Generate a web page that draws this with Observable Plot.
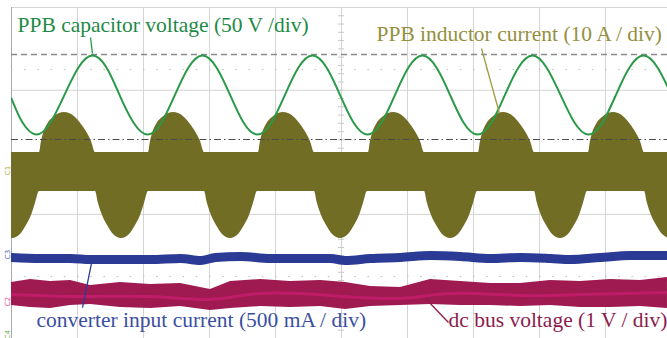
<!DOCTYPE html>
<html><head><meta charset="utf-8">
<script src="https://cdn.jsdelivr.net/npm/d3@7"></script>
<script src="https://cdn.jsdelivr.net/npm/@observablehq/plot@0.6"></script>
<style>html,body{margin:0;padding:0;background:#fff;overflow:hidden}</style>
</head><body><div id="chart"></div>
<script>
// Units: x in horizontal screen divisions, y in vertical screen divisions (0 = bottom)
const gridX = [0, 1, 2, 3, 4, 5, 6, 7, 8, 9];
const gridY = [3, 6, 8];
const dotRowsY = [1.5, 6.5];
const dashedLevel = [6.864];
const dashDotLevel = [4.81];

// PPB capacitor voltage (green)
const capX = [0,0.167,0.379,0.591,0.803,1.015,1.227,1.439,1.636,1.848,2.061,2.273,2.477,2.682,2.894,3.106,3.311,3.515,3.727,3.939,4.144,4.348,4.561,4.773,4.977,5.182,5.394,5.606,5.811,6.015,6.227,6.439,6.644,6.848,7.061,7.273,7.477,7.682,7.894,8.106,8.318,8.530,8.742,8.955,9.159,9.364,9.576,9.788,10];
const capY = [5.80,5.22,4.93,5.22,5.89,6.55,6.84,6.55,5.89,5.22,4.93,5.22,5.89,6.55,6.84,6.55,5.89,5.22,4.93,5.22,5.89,6.55,6.84,6.55,5.89,5.22,4.93,5.22,5.89,6.55,6.84,6.55,5.89,5.22,4.93,5.22,5.89,6.55,6.84,6.55,5.89,5.22,4.93,5.22,5.89,6.55,6.84,6.55,5.89];

// PPB inductor current envelope (olive)
const bandTop = 4.495, bandBottom = 3.553;
const humpStarts = [0.424, 2.076, 3.742, 5.409, 7.076, 8.742];
const humpDx = [0,0.030,0.061,0.121,0.212,0.303,0.379,0.455,0.545,0.636,0.727,0.788,0.848];
const humpY  = [4.495,4.761,4.955,5.172,5.341,5.438,5.462,5.438,5.341,5.172,4.955,4.761,4.495];
const dipStarts = [-0.379, 1.273, 2.924, 4.591, 6.258, 7.924, 9.591];
const dipDx = [0,0.045,0.106,0.182,0.273,0.394,0.515,0.606,0.682,0.742,0.803];
const dipY  = [3.553,3.263,2.973,2.731,2.514,2.417,2.514,2.731,2.973,3.263,3.553];

// converter input current (blue)
const inX = [0,0.439,0.894,1.197,1.652,2.106,2.561,2.864,3.091,3.470,3.924,4.379,4.833,5.061,5.439,5.894,6.348,6.803,7.258,7.712,8.167,8.470,8.924,9.379,9.939];
const inY = [1.958,1.934,1.934,1.909,1.909,1.909,1.934,1.885,1.958,1.982,1.934,1.934,1.934,1.885,1.934,1.958,2.006,1.982,1.934,1.958,1.934,1.909,1.958,2.006,2.006];

// dc bus voltage (magenta band)
const busX = [0,0.288,0.591,0.894,1.197,1.652,2.106,2.561,3.015,3.318,3.773,4.227,4.682,5.061,5.439,5.894,6.348,6.803,7.258,7.712,8.167,8.621,9.076,9.530,9.939];
const busTop = [1.353,1.426,1.378,1.402,1.281,1.353,1.305,1.329,1.184,1.378,1.426,1.378,1.402,1.353,1.257,1.233,1.426,1.378,1.329,1.329,1.402,1.378,1.426,1.402,1.474];
const busBot = [0.798,0.749,0.725,0.798,0.822,0.749,0.725,0.773,0.677,0.725,0.773,0.749,0.773,0.701,0.773,0.798,0.822,0.798,0.798,0.773,0.798,0.749,0.749,0.773,0.725];
const busMidX = [0,1.045,2.106,3.015,3.773,4.833,5.894,6.652,7.712,8.621,9.939];
const busMidY = [1.063,1.015,1.015,0.943,1.088,1.039,0.967,1.088,1.039,1.063,1.112];

// labels
const labels = [
  {text: "PPB capacitor voltage (50 V /div)", x: 0.091, y: 7.40, color: "#1f8a47"},
  {text: "PPB inductor current (10 A / div)", x: 5.530, y: 7.18, color: "#958f3d"},
  {text: "converter input current (500 mA / div)", x: 0.379, y: 0.266, color: "#3a4fa2"},
  {text: "dc bus voltage (1 V / div)", x: 6.621, y: 0.266, color: "#8c1c4d"}
];
const leaders = [
  {x1: 1.227, y1: 6.888, x2: 1.197, y2: 7.275, color: "#2a9a48"},
  {x1: 7.121, y1: 7.009, x2: 7.394, y2: 5.438, color: "#a09a40"},
  {x1: 1.227, y1: 1.934, x2: 1.076, y2: 0.749, color: "#2c3c98"},
  {x1: 6.273, y1: 0.967, x2: 6.621, y2: 0.387, color: "#8c1c4d"}
];
const channelTags = [
  {text: "C1", y: 4.06, color: "#b3ad48"},
  {text: "C3", y: 2.03, color: "#5566b5"},
  {text: "C2", y: 0.894, color: "#e0408a"},
  {text: "C4", y: 0.097, color: "#78b058"}
];

const cap = capX.map((x, i) => ({x, y: capY[i]}));
const topEdge = [{x: 0, y: bandTop},
  ...humpStarts.flatMap(s => humpDx.map((d, i) => ({x: s + d, y: humpY[i]}))),
  {x: 10, y: bandTop}];
const bottomEdge = [
  ...dipStarts.flatMap(s => dipDx.map((d, i) => ({x: s + d, y: dipY[i]}))),
  {x: 10.6, y: bandBottom}];
const inCur = inX.map((x, i) => ({x, y: inY[i]}));
const bus = busX.map((x, i) => ({x, y1: busBot[i], y2: busTop[i]}));
const busMid = busMidX.map((x, i) => ({x, y: busMidY[i]}));
const centerTicks = d3.range(0.2, 8, 0.2);

const font = "Liberation Serif, Times New Roman, serif";

const marks = [
  Plot.ruleX(gridX.filter(d => d > 0), {stroke: "#d4d4d4", strokeWidth: 1}),
  Plot.ruleY(gridY, {stroke: "#d4d4d4", strokeWidth: 1}),
  Plot.ruleX([0], {stroke: "#a8a8a8", strokeWidth: 1}),
  Plot.ruleY(dotRowsY, {stroke: "#bdbdbd", strokeWidth: 1, strokeDasharray: "1.5,11.7"}),
  Plot.ruleY(centerTicks, {x1: 4.955, x2: 5.045, stroke: "#c8c8c8", strokeWidth: 1}),
  Plot.areaY(topEdge, {x: "x", y1: bandBottom, y2: "y", fill: "#716d25", curve: "monotone-x", clip: true}),
  Plot.areaY(bottomEdge, {x: "x", y1: "y", y2: bandTop, fill: "#716d25", curve: "monotone-x", clip: true}),
  Plot.ruleY(dashedLevel, {stroke: "#8a8a8a", strokeWidth: 1.3, strokeDasharray: "6,4"}),
  Plot.ruleY(dashDotLevel, {stroke: "#4a4a4a", strokeWidth: 1, strokeDasharray: "7,3,1.5,3"}),
  Plot.line(cap, {x: "x", y: "y", stroke: "#2a9a48", strokeWidth: 2, curve: "natural", clip: true}),
  Plot.line(inCur, {x: "x", y: "y", stroke: "#2b3a94", strokeWidth: 9, curve: "monotone-x", clip: true}),
  Plot.areaY(bus, {x: "x", y1: "y1", y2: "y2", fill: "#9e1a50", curve: "linear", clip: true}),
  Plot.line(busMid, {x: "x", y: "y", stroke: "#d81f78", strokeWidth: 3, strokeOpacity: 0.55, curve: "natural", clip: true})
];
for (const l of leaders) {
  marks.push(Plot.link([l], {x1: "x1", y1: "y1", x2: "x2", y2: "y2", stroke: l.color, strokeWidth: 1.3}));
}
for (const t of labels) {
  marks.push(Plot.text([t], {x: "x", y: "y", text: "text", fill: t.color, textAnchor: "start", lineAnchor: "bottom", fontSize: 21.5, fontFamily: font}));
}
for (const c of channelTags) {
  marks.push(Plot.text([c], {x: -0.06, y: "y", text: "text", fill: c.color, fontSize: 7, rotate: -90, fontFamily: "DejaVu Sans"}));
}

const chart = Plot.plot({
  width: 667, height: 338,
  marginLeft: 11, marginRight: 0, marginTop: 7, marginBottom: 0,
  x: {domain: [0, 9.9394], axis: null},
  y: {domain: [0, 8], axis: null},
  style: {background: "white", overflow: "visible"},
  marks
});
document.getElementById("chart").append(chart);
</script>
</body></html>
